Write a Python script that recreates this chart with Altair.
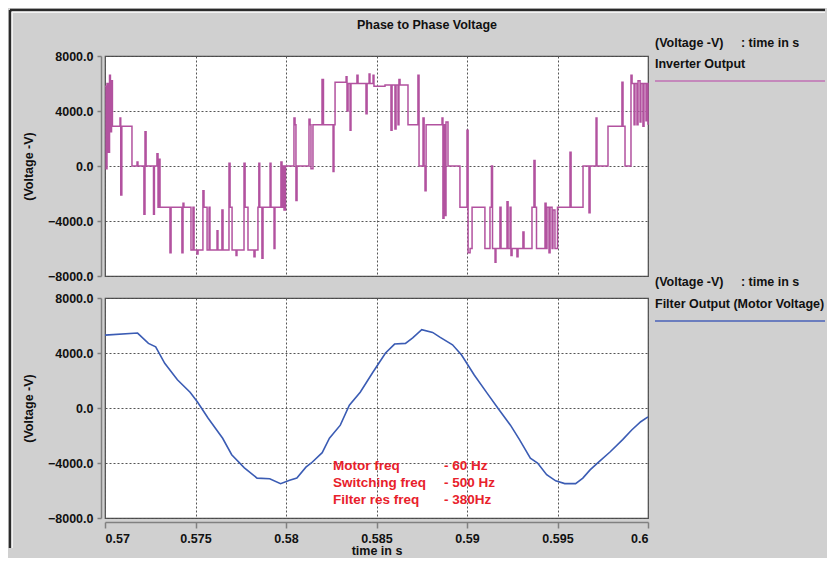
import altair as alt
import pandas as pd

# ---------------- data ----------------
inv_time = [
    0.57000, 0.57006, 0.57011, 0.57017, 0.57025, 0.57030, 0.57036, 0.57041, 0.57083, 0.57087,
    0.57093, 0.57149, 0.57177, 0.57182, 0.57215, 0.57221, 0.57227, 0.57268, 0.57273, 0.57287,
    0.57293, 0.57298, 0.57304, 0.57359, 0.57365, 0.57425, 0.57431, 0.57436, 0.57475, 0.57486,
    0.57492, 0.57508, 0.57514, 0.57541, 0.57547, 0.57564, 0.57575, 0.57580, 0.57619, 0.57624,
    0.57646, 0.57652, 0.57685, 0.57691, 0.57702, 0.57724, 0.57729, 0.57768, 0.57774, 0.57790,
    0.57823, 0.57829, 0.57845, 0.57850, 0.57855, 0.57867, 0.57873, 0.57912, 0.57917, 0.57934,
    0.57939, 0.57972, 0.57978, 0.57983, 0.57989, 0.57997, 0.58044, 0.58050, 0.58055, 0.58061,
    0.58127, 0.58133, 0.58138, 0.58149, 0.58199, 0.58207, 0.58260, 0.58265, 0.58271, 0.58332,
    0.58337, 0.58343, 0.58354, 0.58359, 0.58392, 0.58398, 0.58442, 0.58448, 0.58459, 0.58464,
    0.58481, 0.58486, 0.58547, 0.58580, 0.58586, 0.58602, 0.58608, 0.58619, 0.58624, 0.58630,
    0.58674, 0.58729, 0.58735, 0.58757, 0.58763, 0.58768, 0.58774, 0.58862, 0.58867, 0.58873,
    0.58879, 0.58884, 0.58895, 0.58961, 0.59000, 0.59006, 0.59017, 0.59028, 0.59099, 0.59127,
    0.59135, 0.59141, 0.59155, 0.59160, 0.59182, 0.59188, 0.59221, 0.59227, 0.59238, 0.59243,
    0.59249, 0.59276, 0.59282, 0.59309, 0.59315, 0.59359, 0.59370, 0.59376, 0.59384, 0.59431,
    0.59437, 0.59442, 0.59453, 0.59459, 0.59470, 0.59475, 0.59486, 0.59500, 0.59569, 0.59575,
    0.59641, 0.59674, 0.59680, 0.59713, 0.59718, 0.59779, 0.59856, 0.59862, 0.59873, 0.59906,
    0.59912, 0.59923, 0.59928, 0.59939, 0.59945, 0.59956, 0.59961, 0.59972, 0.59978, 0.59989,
    0.59995, 0.60000,
]
inv_volt = [
    5800, -200, 6000, 1000, 6600, 2500, 6200, 2900, 3500, -2100,
    2900, 0, 300, 0, -3500, 2500, 0, -3500, 0, 900,
    -3000, 500, -3000, -6300, -3000, -6300, -2700, -3000, -6100, -3000,
    -6100, -6400, -6100, -1800, -3000, -6100, -3000, -6100, -4700, -6100,
    -3200, -6100, 200, -3000, -6100, -6500, -6100, 200, -3000, -6100,
    -6600, -6100, -3000, 200, -3000, -6700, -3000, 200, -3000, -6000,
    -3000, 300, -3000, 0, -3200, 0, 3500, 3000, -2500, 0,
    3400, 3000, -200, 3000, 6300, 3000, -400, 3000, 6100, 6500,
    4000, 6000, 2600, 6000, 6600, 6000, 3800, 6000, 6700, 6000,
    6600, 5800, 5900, 2600, 5900, 2700, 5900, 3000, 6300, 5900,
    3000, 6600, 0, 3500, 0, -1800, 3000, 3500, -3800, 3000,
    -3600, 3200, 0, -3000, 2600, -6300, -6000, -3000, -6000, -3000,
    0, -6000, -7000, -6000, -3000, -6000, -2600, -6000, -3000, -6500,
    -6000, -6600, -6000, -4800, -6000, -3000, 400, -3000, -6000, -2700,
    -6000, -3000, -6300, -3000, -6000, -3200, -6000, -3000, 1000, -3000,
    0, -3400, 0, 3500, 0, 2900, 6100, 2900, 0, 6600,
    6000, 3000, 6000, 3000, 6200, 3200, 6000, 2900, 6000, 3300,
    6000, 3000,
]

filt_time = [
    0.5700, 0.5718, 0.5724, 0.5728, 0.5733, 0.5740, 0.5747, 0.5751, 0.5757, 0.5765,
    0.5770, 0.5777, 0.5784, 0.5791, 0.5797, 0.5802, 0.5806, 0.5811, 0.5814, 0.5820,
    0.5824, 0.5830, 0.5835, 0.5841, 0.5848, 0.5855, 0.5860, 0.5866, 0.5870, 0.5875,
    0.5881, 0.5885, 0.5892, 0.5897, 0.5904, 0.5911, 0.5917, 0.5924, 0.5929, 0.5935,
    0.5939, 0.5944, 0.5949, 0.5954, 0.5960, 0.5964, 0.5968, 0.5973, 0.5979, 0.5986,
    0.5991, 0.5996, 0.6000,
]
filt_volt = [
    5300, 5450, 4700, 4450, 3250, 2050, 1150, 450, -750, -2200,
    -3400, -4350, -5100, -5150, -5500, -5250, -5100, -4300, -4000, -3250,
    -2200, -1250, 200, 1150, 2600, 4000, 4650, 4700, 5100, 5700,
    5500, 5150, 4600, 3850, 2400, 1100, 0, -1250, -2300, -3650,
    -4000, -4850, -5300, -5500, -5500, -5100, -4500, -3900, -3200, -2300,
    -1600, -1000, -650,
]

x_ticks = [0.57, 0.575, 0.58, 0.585, 0.59, 0.595, 0.6]
y_ticks = [-8000, -4000, 0, 4000, 8000]

title_text = "Phase to Phase Voltage"
legend_header = "(Voltage -V)\u00a0\u00a0\u00a0\u00a0\u00a0:\u00a0time in s"
inv_name = "Inverter Output"
filt_name = "Filter Output (Motor Voltage)"
y_title = "(Voltage -V)"
x_title = "time in s"
note_labels = ["Motor freq", "Switching freq", "Filter res freq"]
note_values = ["- 60 Hz", "- 500 Hz", "- 380Hz"]

# ---------------- styling ----------------
W, H = 543, 220
FONT = "Liberation Sans"
INV_C = "#b2529f"
FILT_C = "#3b5cb4"
RED = "#e8212b"
GRAY_BG = "#d0d0d0"
FRAME = "#2a2a2a"
RIGHT_END = 720   # right edge of the drawing, in panel pixels
BOTTOM_END = 492  # bottom edge of the frame, in upper-panel pixels

xscale = alt.Scale(domain=[0.57, 0.6], nice=False, zero=False)
yscale = alt.Scale(domain=[-8000, 8000], nice=False)


def y_axis():
    return alt.Axis(values=y_ticks, format=".1f", title=y_title, offset=4, tickSize=4,
                    labelPadding=4, titlePadding=12, grid=True)


def one_text(txt, x, y, size=12.5, color="#111", align="left", weight="bold"):
    return alt.Chart(pd.DataFrame({"t": [txt]})).mark_text(
        align=align, baseline="middle", font=FONT, fontSize=size, fontWeight=weight, color=color
    ).encode(x=alt.value(x), y=alt.value(y), text="t:N")


def hrule(x, x2, y, color, width):
    return alt.Chart(pd.DataFrame({"a": [0]})).mark_rule(color=color, strokeWidth=width).encode(
        x=alt.value(x), x2=alt.value(x2), y=alt.value(y))


def vrule(x, y, y2, color, width):
    return alt.Chart(pd.DataFrame({"a": [0]})).mark_rule(color=color, strokeWidth=width).encode(
        x=alt.value(x), y=alt.value(y), y2=alt.value(y2))


inv = pd.DataFrame({"time": inv_time, "volt": inv_volt})
filt = pd.DataFrame({"time": filt_time, "volt": filt_volt})

top_line = alt.Chart(inv).mark_line(interpolate="step-after", color=INV_C, strokeWidth=1.5).encode(
    x=alt.X("time:Q", scale=xscale,
            axis=alt.Axis(values=x_ticks, labels=False, ticks=False, domain=False, title=None, grid=True)),
    y=alt.Y("volt:Q", scale=yscale, axis=y_axis()),
)

# page frame (origin of this panel is the top-left of the upper plot)
frame_layers = [
    vrule(-95, -46, BOTTOM_END, FRAME, 2.5),
    hrule(-95, RIGHT_END, -46, FRAME, 2.5),
    vrule(-92.8, -44, BOTTOM_END, "#f4f4f4", 1.5),
    hrule(-93, RIGHT_END, -43.8, "#f4f4f4", 1.5),
]

top = alt.layer(
    *frame_layers,
    top_line,
    one_text(title_text, 322, -31, align="center"),
    one_text(legend_header, 550, -13),
    one_text(inv_name, 550, 8),
    hrule(550, RIGHT_END, 25, "#c070b5", 1.5),
).properties(width=W, height=H)

bot_line = alt.Chart(filt).mark_line(color=FILT_C, strokeWidth=1.6).encode(
    x=alt.X("time:Q", scale=xscale,
            axis=alt.Axis(values=x_ticks, format="~g", title=x_title, offset=4, tickSize=6,
                          labelPadding=4, titlePadding=0, grid=True)),
    y=alt.Y("volt:Q", scale=yscale, axis=y_axis()),
)

notes_left = alt.Chart(pd.DataFrame({"t": ["\n".join(note_labels)]})).mark_text(
    align="left", baseline="alphabetic", font=FONT, fontSize=13.5, fontWeight="bold",
    color=RED, lineBreak="\n", lineHeight=17
).encode(x=alt.value(228), y=alt.value(172), text="t:N")

notes_right = alt.Chart(pd.DataFrame({"t": ["\n".join(note_values)]})).mark_text(
    align="left", baseline="alphabetic", font=FONT, fontSize=13.5, fontWeight="bold",
    color=RED, lineBreak="\n", lineHeight=17
).encode(x=alt.value(339), y=alt.value(172), text="t:N")

bottom = alt.layer(
    bot_line,
    notes_left,
    notes_right,
    one_text(legend_header, 550, -16),
    one_text(filt_name, 550, 6),
    hrule(550, RIGHT_END, 23, "#4a62b8", 1.5),
).properties(width=W, height=H)

chart = alt.vconcat(top, bottom, spacing=22, bounds="flush").properties(
    background=GRAY_BG, padding=0
).configure_view(
    fill="white", stroke="#4a4a4a", strokeWidth=1.2
).configure_axis(
    labelFont=FONT, labelFontSize=12.5, labelFontWeight="bold", labelColor="#111",
    titleFont=FONT, titleFontSize=12.5, titleFontWeight="bold", titleColor="#111",
    gridColor="#555", gridDash=[2, 2], gridOpacity=1, gridWidth=1,
    domainColor="#808080", tickColor="#808080", domainWidth=1.5, tickWidth=1.5,
)

chart.save("out.html", embed_options={"renderer": "svg", "actions": False})
